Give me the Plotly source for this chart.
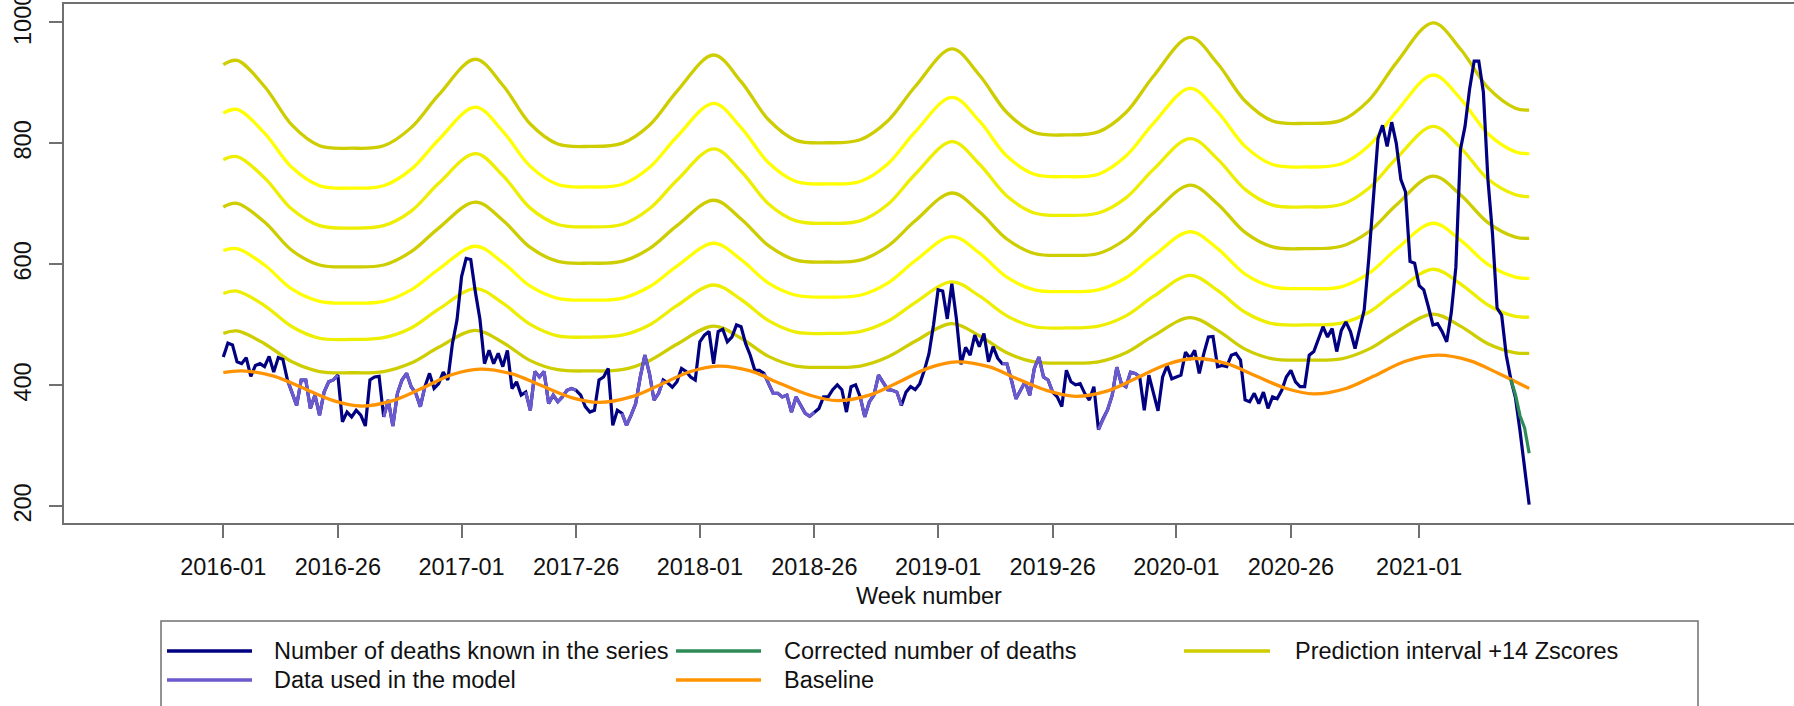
import plotly.graph_objects as go

# ---------------- data ----------------
years = [2016, 2017, 2018, 2019, 2020, 2021]
weeks_in_year = [52, 52, 52, 52, 53, 25]
week_labels = [f"{y}-{w:02d}" for y, n in zip(years, weeks_in_year) for w in range(1, n + 1)]
pos = {lab: i for i, lab in enumerate(week_labels)}

deaths = [
    447, 470, 467, 439, 436, 446, 415, 433, 436, 431,
    448, 422, 446, 443, 409, 387, 367, 409, 409, 362,
    384, 351, 389, 406, 409, 417, 340, 356, 348, 359,
    351, 333, 409, 414, 415, 348, 376, 333, 387, 409,
    420, 398, 387, 365, 398, 420, 395, 403, 422, 409,
    469, 508, 580, 610, 608, 555, 510, 436, 458, 436,
    453, 431, 458, 395, 406, 384, 389, 359, 423, 414,
    423, 370, 384, 373, 381, 392, 395, 392, 384, 365,
    356, 359, 409, 414, 428, 334, 359, 354, 334, 351,
    370, 414, 450, 420, 376, 387, 409, 404, 397, 406,
    428, 423, 414, 409, 472, 483, 489, 436, 489, 493,
    472, 480, 500, 497, 469, 450, 425, 425, 420, 403,
    387, 387, 381, 384, 356, 381, 367, 354, 349, 356,
    362, 381, 381, 393, 401, 393, 356, 398, 401, 381,
    348, 373, 384, 417, 406, 393, 392, 389, 367, 389,
    398, 393, 403, 425, 452, 500, 558, 556, 510, 568,
    510, 435, 463, 450, 483, 464, 486, 439, 464, 445,
    436, 436, 409, 378, 392, 406, 384, 428, 447, 414,
    409, 389, 381, 365, 425, 406, 401, 403, 387, 376,
    398, 327, 345, 360, 384, 430, 403, 398, 422, 420,
    414, 359, 417, 387, 358, 414, 433, 411, 414, 417,
    455, 445, 458, 420, 453, 480, 481, 431, 433, 431,
    450, 453, 442, 376, 373, 387, 370, 389, 362, 381,
    378, 392, 414, 425, 406, 398, 398, 450, 456, 478,
    497, 480, 494, 456, 491, 505, 489, 461, 494, 525,
    610, 706, 808, 830, 795, 835, 800, 740, 720, 605,
    602, 565, 558, 530, 500, 502, 489, 472, 520, 595,
    790, 828, 890, 936, 936, 885, 740, 650, 528, 516,
    450, 410, 380, 325, 260, 203,
]

corrected_weeks = ["2021-21", "2021-22", "2021-23", "2021-24", "2021-25"]
corrected = [410, 385, 350, 330, 288]

model_periods = [
    ("2016-15", "2016-26"), ("2016-36", "2016-45"),
    ("2017-15", "2017-26"), ("2017-36", "2017-45"),
    ("2018-15", "2018-26"), ("2018-36", "2018-45"),
    ("2019-15", "2019-26"), ("2019-36", "2019-45"),
]

baseline_weeks = [
    "2016-01", "2016-05", "2016-12", "2016-18", "2016-25", "2016-31", "2016-38", "2016-44", "2016-51",
    "2017-05", "2017-12", "2017-18", "2017-25", "2017-31", "2017-38", "2017-44", "2017-51",
    "2018-05", "2018-12", "2018-18", "2018-25", "2018-31", "2018-38", "2018-44", "2018-51",
    "2019-05", "2019-12", "2019-18", "2019-25", "2019-31", "2019-38", "2019-44", "2019-51",
    "2020-05", "2020-12", "2020-18", "2020-25", "2020-31", "2020-38", "2020-44", "2020-51",
    "2021-05", "2021-12", "2021-18", "2021-25",
]
baseline = [
    421, 424, 415.5, 397, 375, 366, 375, 394, 418,
    427, 419, 401, 380, 372, 381, 400, 423,
    432, 424, 405, 384, 375, 384, 404, 429,
    439, 431, 412, 391, 382, 391, 411, 435,
    444.5, 436, 417, 395, 386, 395, 415, 440,
    450, 441, 421, 395,
]

pi_weeks = [
    "2016-01", "2016-04", "2016-10", "2016-16", "2016-22", "2016-29", "2016-36", "2016-42", "2016-48",
    "2017-04", "2017-10", "2017-16", "2017-22", "2017-29", "2017-36", "2017-42", "2017-48",
    "2018-04", "2018-10", "2018-16", "2018-22", "2018-29", "2018-36", "2018-42", "2018-48",
    "2019-04", "2019-10", "2019-16", "2019-22", "2019-29", "2019-36", "2019-42", "2019-48",
    "2020-04", "2020-10", "2020-16", "2020-22", "2020-29", "2020-37", "2020-43", "2020-49",
    "2021-04", "2021-10", "2021-16", "2021-22", "2021-25",
]
pi_z14 = [930, 937, 894, 830, 796, 792, 796, 826, 880,
          939, 896, 832, 799, 795, 800, 830, 886,
          946, 902, 839, 805, 801, 806, 837, 894,
          956, 913, 851, 818, 814, 819, 851, 911,
          975, 932, 870, 837, 833, 838, 871, 933,
          999, 956, 892, 858, 855]
pi_z12 = [850, 856, 817, 760, 730, 726, 730, 757, 806,
          860, 820, 762, 732, 728, 732, 760, 811,
          866, 826, 768, 737, 733, 737, 766, 819,
          876, 837, 779, 749, 745, 749, 779, 833,
          891, 852, 795, 765, 761, 766, 796, 852,
          913, 874, 816, 786, 783]
pi_z10 = [773, 778, 743, 691, 664, 660, 664, 688, 734,
          783, 747, 693, 666, 662, 666, 692, 739,
          791, 754, 700, 672, 668, 672, 699, 749,
          803, 766, 713, 685, 681, 685, 710, 757,
          808, 774, 724, 698, 695, 699, 726, 775,
          828, 793, 741, 715, 712]
pi_z8 = [695, 701, 670, 623, 599, 596, 599, 621, 660,
         703, 673, 628, 605, 602, 605, 626, 664,
         706, 675, 631, 607, 604, 607, 630, 672,
         718, 687, 642, 618, 615, 618, 642, 685,
         731, 700, 653, 629, 626, 630, 654, 698,
         746, 715, 669, 645, 643]
pi_z6 = [623, 626, 599, 559, 539, 536, 539, 558, 592,
         630, 603, 564, 544, 541, 544, 563, 597,
         635, 608, 569, 549, 546, 549, 569, 606,
         646, 619, 579, 558, 555, 558, 578, 614,
         654, 626, 584, 563, 560, 563, 585, 625,
         668, 640, 600, 579, 577]
pi_z4 = [552, 556, 532, 497, 478, 476, 479, 495, 526,
         560, 536, 501, 482, 480, 483, 500, 532,
         566, 542, 507, 488, 486, 489, 506, 537,
         571, 548, 515, 497, 495, 498, 515, 547,
         582, 557, 521, 502, 500, 503, 521, 555,
         592, 568, 533, 514, 513]
pi_z2 = [486, 490, 469, 439, 423, 421, 423, 437, 463,
         491, 471, 441, 426, 424, 426, 441, 468,
         498, 478, 448, 432, 430, 432, 447, 473,
         502, 482, 454, 439, 437, 439, 454, 482,
         512, 491, 460, 444, 442, 444, 460, 488,
         518, 498, 469, 454, 453]

tick_labels = ["2016-01", "2016-26", "2017-01", "2017-26", "2018-01", "2018-26",
               "2019-01", "2019-26", "2020-01", "2020-26", "2021-01"]
y_ticks = [200, 400, 600, 800, 1000]

# ---------------- styling ----------------
NAVY = "#000080"
SLATE = "#6A5ACD"
GREEN = "#2E8B57"
ORANGE = "#FF9400"
OLIVE = "#CDCD00"
YEL1 = "#FFFF00"
YEL2 = "#EEEE00"
FONT = "Liberation Sans, Arial, sans-serif"
FS = 23.5
AXC = "#707070"

W, H = 1794, 706
ML, MT, MB = 64, 4, 183
PW = W - ML
PH = H - MT - MB


def px_x(px):
    return (px - ML) / PW


def px_y(py):
    return (H - MB - py) / PH


n = len(week_labels)
xs = list(range(n))
used = [None] * n
for a, b in model_periods:
    for i in range(pos[a], pos[b] + 1):
        used[i] = deaths[i]

fig = go.Figure()

pi_x = [pos[w] for w in pi_weeks]
for vals, col in [(pi_z2, OLIVE), (pi_z4, YEL2), (pi_z6, YEL1), (pi_z8, OLIVE),
                  (pi_z10, YEL2), (pi_z12, YEL1), (pi_z14, OLIVE)]:
    fig.add_trace(go.Scatter(x=pi_x, y=vals, mode="lines",
                             line=dict(color=col, width=3.3, shape="spline", smoothing=1.0),
                             showlegend=False, hoverinfo="skip"))

fig.add_trace(go.Scatter(x=xs, y=deaths, mode="lines", line=dict(color=NAVY, width=3.2),
                         name="Number of deaths known in the series", showlegend=False))
fig.add_trace(go.Scatter(x=xs, y=used, mode="lines", line=dict(color=SLATE, width=3.2),
                         connectgaps=False, name="Data used in the model", showlegend=False))
fig.add_trace(go.Scatter(x=[pos[w] for w in baseline_weeks], y=baseline, mode="lines",
                         line=dict(color=ORANGE, width=3.3, shape="spline", smoothing=1.0),
                         name="Baseline", showlegend=False))
fig.add_trace(go.Scatter(x=[pos[w] for w in corrected_weeks], y=corrected, mode="lines",
                         line=dict(color=GREEN, width=3.2),
                         name="Corrected number of deaths", showlegend=False))

# ---------------- manual legend (R style) ----------------
shapes = [dict(type="rect", xref="paper", yref="paper",
               x0=px_x(161), x1=px_x(1698), y0=px_y(621), y1=px_y(740),
               line=dict(color=AXC, width=1.5), fillcolor="rgba(0,0,0,0)")]
legend_items = [
    ("Number of deaths known in the series", NAVY, 167, 252, 272, 651),
    ("Data used in the model", SLATE, 167, 252, 272, 680),
    ("Corrected number of deaths", GREEN, 676, 761, 782, 651),
    ("Baseline", ORANGE, 676, 761, 782, 680),
    ("Prediction interval +14 Zscores", OLIVE, 1184, 1270, 1293, 651),
]
annotations = []
for text, col, lx0, lx1, tx, ty in legend_items:
    shapes.append(dict(type="line", xref="paper", yref="paper",
                       x0=px_x(lx0), x1=px_x(lx1), y0=px_y(ty), y1=px_y(ty),
                       line=dict(color=col, width=3.3)))
    annotations.append(dict(text=text, xref="paper", yref="paper", x=px_x(tx), y=px_y(ty),
                            xanchor="left", yanchor="middle", showarrow=False,
                            font=dict(family=FONT, size=FS, color="#111")))

annotations.append(dict(text="Week number", xref="paper", yref="paper",
                        x=px_x(929), y=px_y(596), xanchor="center", yanchor="middle",
                        showarrow=False, font=dict(family=FONT, size=FS, color="#111")))

fig.update_layout(
    width=W, height=H,
    margin=dict(l=ML, r=0, t=MT, b=MB, pad=0),
    paper_bgcolor="white", plot_bgcolor="white",
    showlegend=False,
    shapes=shapes, annotations=annotations,
    font=dict(family=FONT, size=FS, color="#111"),
)
fig.update_xaxes(
    range=[-34.77, 342.8], tickmode="array",
    tickvals=[pos[t] for t in tick_labels], ticktext=tick_labels,
    ticks="outside", ticklen=13, tickwidth=1.5, tickcolor=AXC,
    ticklabelstandoff=9, ticklabeloverflow="allow",
    showline=True, linecolor=AXC, linewidth=1.5, mirror=True,
    showgrid=False, zeroline=False, automargin=False,
    tickfont=dict(family=FONT, size=FS, color="#111"),
)
fig.update_yaxes(
    range=[172.7, 1030.3], tickmode="array", tickvals=y_ticks,
    ticktext=[str(v) for v in y_ticks], tickangle=-90,
    ticks="outside", ticklen=13, tickwidth=1.5, tickcolor=AXC,
    ticklabelstandoff=9, ticklabeloverflow="allow",
    showline=True, linecolor=AXC, linewidth=1.5,
    showgrid=False, zeroline=False, automargin=False,
    tickfont=dict(family=FONT, size=FS, color="#111"),
)

fig.write_html(
    "out.html",
    config={"displayModeBar": False},
    post_script="document.body.style.margin='0';document.body.style.overflow='hidden';",
)
